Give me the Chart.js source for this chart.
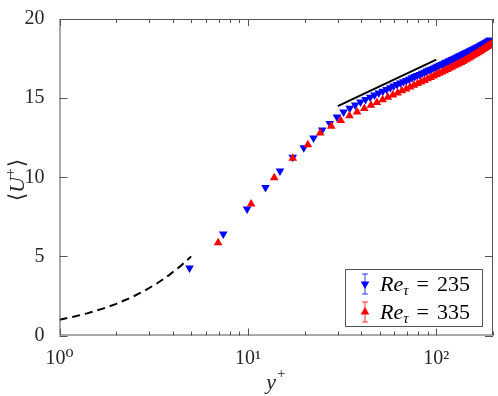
<!DOCTYPE html>
<html>
<head>
<meta charset="utf-8">
<script src="https://cdn.jsdelivr.net/npm/chart.js@4.4.1/dist/chart.umd.min.js"></script>
<style>
  body { margin: 0; background: #fff; }
  canvas { display: block; }
</style>
</head>
<body>
<canvas id="chart" width="498" height="396"></canvas>
<script>
// Re_tau = 235 (blue, down triangles)
const yPlusBlue = [4.9, 7.4, 9.9, 12.4, 14.8, 17.3, 19.8, 22.3, 24.8, 27.2, 29.7, 32.2, 34.7, 37.1, 39.6,
  42.1, 44.6, 47.0, 49.5, 52.0, 54.5, 57.0, 59.4, 61.9, 64.4, 66.9, 69.3, 71.8, 74.3, 76.8, 79.2, 81.7,
  84.2, 86.7, 89.1, 91.6, 94.1, 96.6, 99.1, 101.5, 104.0, 106.5, 109.0, 111.4, 113.9, 116.4, 118.9,
  121.3, 123.8, 126.3, 128.8, 131.2, 133.7, 136.2, 138.7, 141.2, 143.6, 146.1, 148.6, 151.1, 153.5,
  156.0, 158.5, 161.0, 163.4, 165.9, 168.4, 170.9, 173.3, 175.8, 178.3, 180.8, 183.3, 185.7, 188.2,
  190.7, 193.2];
const uBlue = [4.26, 6.41, 8.00, 9.36, 10.40, 11.26, 11.87, 12.48, 12.98, 13.40, 13.80, 14.12, 14.36, 14.56, 14.75,
  14.91, 15.06, 15.19, 15.32, 15.44, 15.55, 15.66, 15.76, 15.86, 15.95, 16.04, 16.12, 16.20, 16.28, 16.36, 16.43, 16.50,
  16.57, 16.64, 16.71, 16.77, 16.83, 16.89, 16.95, 17.01, 17.07, 17.13, 17.18, 17.24, 17.29, 17.34, 17.39,
  17.44, 17.49, 17.54, 17.59, 17.64, 17.68, 17.73, 17.77, 17.82, 17.86, 17.90, 17.95, 17.99, 18.03,
  18.07, 18.11, 18.15, 18.19, 18.23, 18.27, 18.31, 18.35, 18.39, 18.43, 18.47, 18.51, 18.55, 18.59,
  18.63, 18.67];

// Re_tau = 335 (red, up triangles)
const yPlusRed = [6.95, 10.4, 13.8, 17.3, 20.8, 24.2, 27.7, 31.1, 34.6, 38.0, 41.5, 45.0, 48.4, 51.9, 55.3,
  58.8, 62.3, 65.7, 69.2, 72.6, 76.1, 79.6, 83.0, 86.5, 89.9, 93.4, 96.9, 100.3, 103.8, 107.2, 110.7,
  114.2, 117.6, 121.1, 124.5, 128.0, 131.5, 134.9, 138.4, 141.8, 145.3, 148.8, 152.2, 155.7, 159.1,
  162.6, 166.1, 169.5, 173.0, 176.4, 179.9, 183.4, 186.8, 190.3, 193.7, 197.2];
const uRed = [5.86, 8.31, 9.97, 11.20, 12.06, 12.79, 13.22, 13.58, 13.88, 14.13, 14.35, 14.55, 14.73, 14.90, 15.05,
  15.19, 15.33, 15.46, 15.58, 15.70, 15.81, 15.92, 16.02, 16.12, 16.22, 16.31, 16.40, 16.49, 16.57, 16.65, 16.73,
  16.81, 16.89, 16.96, 17.04, 17.11, 17.18, 17.25, 17.32, 17.39, 17.46, 17.53, 17.60, 17.67, 17.74,
  17.80, 17.87, 17.94, 18.00, 18.07, 18.13, 18.20, 18.26, 18.33, 18.39, 18.45];

// reference lines: viscous sublayer (dashed) and log law (solid)
const viscX = [1, 1.2, 1.4, 1.7, 2, 2.4, 2.8, 3.3, 3.8, 4.4, 5];
const viscU = [1, 1.2, 1.4, 1.7, 2, 2.4, 2.8, 3.3, 3.8, 4.4, 5];
const logLawX = [30, 100];
const logLawU = [14.5, 17.43];

const seriesNames = ["235", "335"];
const seriesColors = ["#0000ff", "#ff0000"];
const xTickValues = [1, 2, 3, 4, 5, 6, 7, 8, 9, 10, 20, 30, 40, 50, 60, 70, 80, 90, 100, 200];
const xTickLabels = { 1: "10⁰", 10: "10¹", 100: "10²" };
const yTickValues = [0, 5, 10, 15, 20];

const serif = '"Liberation Serif", "DejaVu Serif", serif';
const zip = (xs, ys) => xs.map((x, i) => ({ x, y: ys[i] }));

// inward ticks, frame, axis titles and the legend box
const decorations = {
  id: "decorations",
  afterDraw(chart) {
    const { ctx, chartArea: a, scales } = chart;
    const xs = scales.x, ys = scales.y;
    ctx.save();
    ctx.strokeStyle = "#555";
    ctx.lineWidth = 1;
    ctx.strokeRect(a.left + 0.5, a.top + 0.5, a.right - a.left - 1, a.bottom - a.top - 1);

    ctx.beginPath();
    xTickValues.forEach((v) => {
      const px = Math.round(xs.getPixelForValue(v)) + 0.5;
      const len = xTickLabels[v] ? 7 : 4;
      ctx.moveTo(px, a.bottom); ctx.lineTo(px, a.bottom - len);
      ctx.moveTo(px, a.top); ctx.lineTo(px, a.top + len);
    });
    yTickValues.forEach((v) => {
      const py = Math.round(ys.getPixelForValue(v)) + 0.5;
      ctx.moveTo(a.left, py); ctx.lineTo(a.left + 8, py);
      ctx.moveTo(a.right, py); ctx.lineTo(a.right - 8, py);
    });
    ctx.stroke();

    // axis titles
    ctx.fillStyle = "#262626";
    ctx.textBaseline = "alphabetic";
    const cx = (a.left + a.right) / 2;
    ctx.font = "italic 22px " + serif;
    const wy = ctx.measureText("y").width;
    ctx.fillText("y", cx - 10, 389);
    ctx.font = "15px " + serif;
    ctx.fillText("+", cx - 10 + wy + 1, 378);

    ctx.save();
    ctx.translate(24, (a.top + a.bottom) / 2 + 24);
    ctx.rotate(-Math.PI / 2);
    let tx = 0;
    ctx.font = "22px " + serif;
    ctx.fillText("⟨", tx, 0); tx += ctx.measureText("⟨").width;
    ctx.font = "italic 22px " + serif;
    ctx.fillText("U", tx, 0); tx += ctx.measureText("U").width;
    ctx.font = "15px " + serif;
    ctx.fillText("+", tx, -9); tx += ctx.measureText("+").width + 1;
    ctx.font = "22px " + serif;
    ctx.fillText("⟩", tx, 0);
    ctx.restore();

    // legend
    const bx = 345.5, by = 269.5, bw = 137, bh = 57;
    ctx.fillStyle = "#fff";
    ctx.fillRect(bx, by, bw, bh);
    ctx.strokeStyle = "#555";
    ctx.strokeRect(bx, by, bw, bh);
    seriesNames.forEach((name, i) => {
      const my = 284 + i * 28, mx = 365;
      const col = seriesColors[i];
      ctx.strokeStyle = col;
      ctx.lineWidth = 0.8;
      ctx.beginPath();
      ctx.moveTo(mx, my - 10); ctx.lineTo(mx, my + 10);
      ctx.moveTo(mx - 3, my - 10); ctx.lineTo(mx + 3, my - 10);
      ctx.moveTo(mx - 3, my + 10); ctx.lineTo(mx + 3, my + 10);
      ctx.stroke();
      ctx.fillStyle = col;
      ctx.beginPath();
      const r = 5, s = i === 0 ? -1 : 1;
      ctx.moveTo(mx, my - s * r);
      ctx.lineTo(mx + r * 0.866, my + s * r / 2);
      ctx.lineTo(mx - r * 0.866, my + s * r / 2);
      ctx.closePath();
      ctx.fill();

      ctx.fillStyle = "#000";
      let lx = 380;
      const base = my + 7;
      ctx.font = "italic 22px " + serif;
      ctx.fillText("Re", lx, base); lx += ctx.measureText("Re").width;
      ctx.font = "italic 15px " + serif;
      ctx.fillText("τ", lx, base + 4); lx += ctx.measureText("τ").width + 8;
      ctx.font = "22px " + serif;
      ctx.fillText("=", lx, base); lx += ctx.measureText("=").width + 8;
      ctx.fillText(name, lx, base);
    });
    ctx.restore();
  }
};

new Chart(document.getElementById("chart").getContext("2d"), {
  type: "scatter",
  data: {
    datasets: [
      {
        label: "Re_tau = 235",
        data: zip(yPlusBlue, uBlue),
        pointStyle: "triangle",
        rotation: 180,
        pointRadius: 5,
        backgroundColor: seriesColors[0],
        borderColor: seriesColors[0],
        borderWidth: 0,
        order: 2,
      },
      {
        label: "Re_tau = 335",
        data: zip(yPlusRed, uRed),
        pointStyle: "triangle",
        pointRadius: 5,
        backgroundColor: seriesColors[1],
        borderColor: seriesColors[1],
        borderWidth: 0,
        order: 1,
      },
      {
        label: "viscous sublayer",
        data: zip(viscX, viscU),
        showLine: true,
        pointRadius: 0,
        borderColor: "#000",
        borderWidth: 2,
        borderDash: [8, 5],
        order: 3,
      },
      {
        label: "log law",
        data: zip(logLawX, logLawU),
        showLine: true,
        pointRadius: 0,
        borderColor: "#000",
        borderWidth: 2,
        order: 3,
      },
    ],
  },
  options: {
    responsive: false,
    animation: false,
    layout: { padding: { top: 10, right: 5, left: 0, bottom: 0 } },
    plugins: {
      legend: { display: false },
      tooltip: { enabled: false },
    },
    scales: {
      x: {
        type: "logarithmic",
        min: 1,
        max: 200,
        afterFit: (scale) => { scale.height = 60.5; },
        afterBuildTicks: (scale) => { scale.ticks = xTickValues.map((v) => ({ value: v })); },
        grid: { display: false },
        border: { display: false },
        ticks: {
          autoSkip: false,
          maxRotation: 0,
          padding: 3,
          color: "#262626",
          font: { family: serif, size: 20 },
          callback: (v) => xTickLabels[v] || "",
        },
      },
      y: {
        min: 0,
        max: 20,
        afterFit: (scale) => { scale.width = 59.5; },
        grid: { display: false },
        border: { display: false },
        ticks: {
          stepSize: 5,
          padding: 7,
          color: "#262626",
          font: { family: serif, size: 20 },
        },
      },
    },
  },
  plugins: [decorations],
});
</script>
</body>
</html>
